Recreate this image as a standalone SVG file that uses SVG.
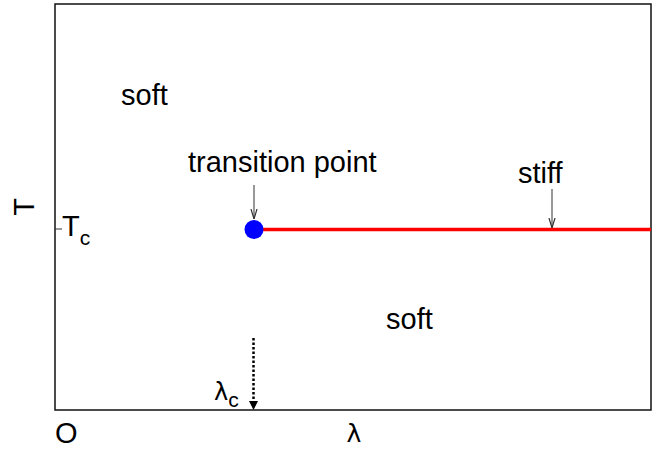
<svg xmlns="http://www.w3.org/2000/svg" width="659" height="453" viewBox="0 0 659 453">
<style>
text{font-family:"Liberation Sans",Arial,sans-serif;font-size:29px;fill:#000}
.sub{font-size:21px}
.thin{stroke:#555;stroke-width:1.2;fill:none}
</style>
<defs>
<marker id="open" viewBox="0 0 10 10" refX="10" refY="5" markerWidth="10" markerHeight="10" markerUnits="userSpaceOnUse" orient="auto">
<path d="M0,2 L10,5 L0,8" fill="none" stroke="#333" stroke-width="1.2"/>
</marker>
<marker id="solid" viewBox="0 0 10 10" refX="10" refY="5" markerWidth="10" markerHeight="9" markerUnits="userSpaceOnUse" orient="auto">
<path d="M0,0 L10,5 L0,10 Z" fill="#000"/>
</marker>
</defs>
<rect width="659" height="453" fill="#fff"/>
<g id="frame">
<rect x="55" y="4" width="596" height="406" fill="none" stroke="#111" stroke-width="1.5"/>
<line x1="55" y1="229" x2="62" y2="229" stroke="#333" stroke-width="1"/>
</g>
<g id="axis-labels">
<text x="34" y="207" transform="rotate(-90 34 207)" text-anchor="middle">T</text>
<text x="62" y="236">T<tspan class="sub" dy="9">c</tspan></text>
<text x="55" y="443">O</text>
<text x="354" y="442" text-anchor="middle" style="font-family:'DejaVu Sans',sans-serif;font-size:25px">λ</text>
<text x="214" y="400" style="font-family:'DejaVu Sans',sans-serif;font-size:24px">λ<tspan class="sub" dy="7" style="font-family:'Liberation Sans',sans-serif">c</tspan></text>
</g>
<g id="region-labels">
<text x="121" y="105">soft</text>
<text x="386" y="329">soft</text>
<text x="188" y="172">transition point</text>
<text x="518" y="183">stiff</text>
</g>
<g id="stiff-line">
<line x1="254" y1="229.5" x2="651" y2="229.5" stroke="#f00" stroke-width="3.5"/>
</g>
<g id="transition-point">
<circle cx="254" cy="229.5" r="9.5" fill="#00f"/>
</g>
<g id="connectors">
<line x1="254" y1="185" x2="254" y2="219" class="thin" marker-end="url(#open)"/>
<line x1="552" y1="189" x2="552" y2="228" class="thin" marker-end="url(#open)"/>
<line x1="253.5" y1="338" x2="253.5" y2="404" stroke="#000" stroke-width="2.5" stroke-dasharray="2.5,2"/>
<line x1="253.5" y1="400" x2="253.5" y2="410" stroke="none" marker-end="url(#solid)"/>
</g>
</svg>
